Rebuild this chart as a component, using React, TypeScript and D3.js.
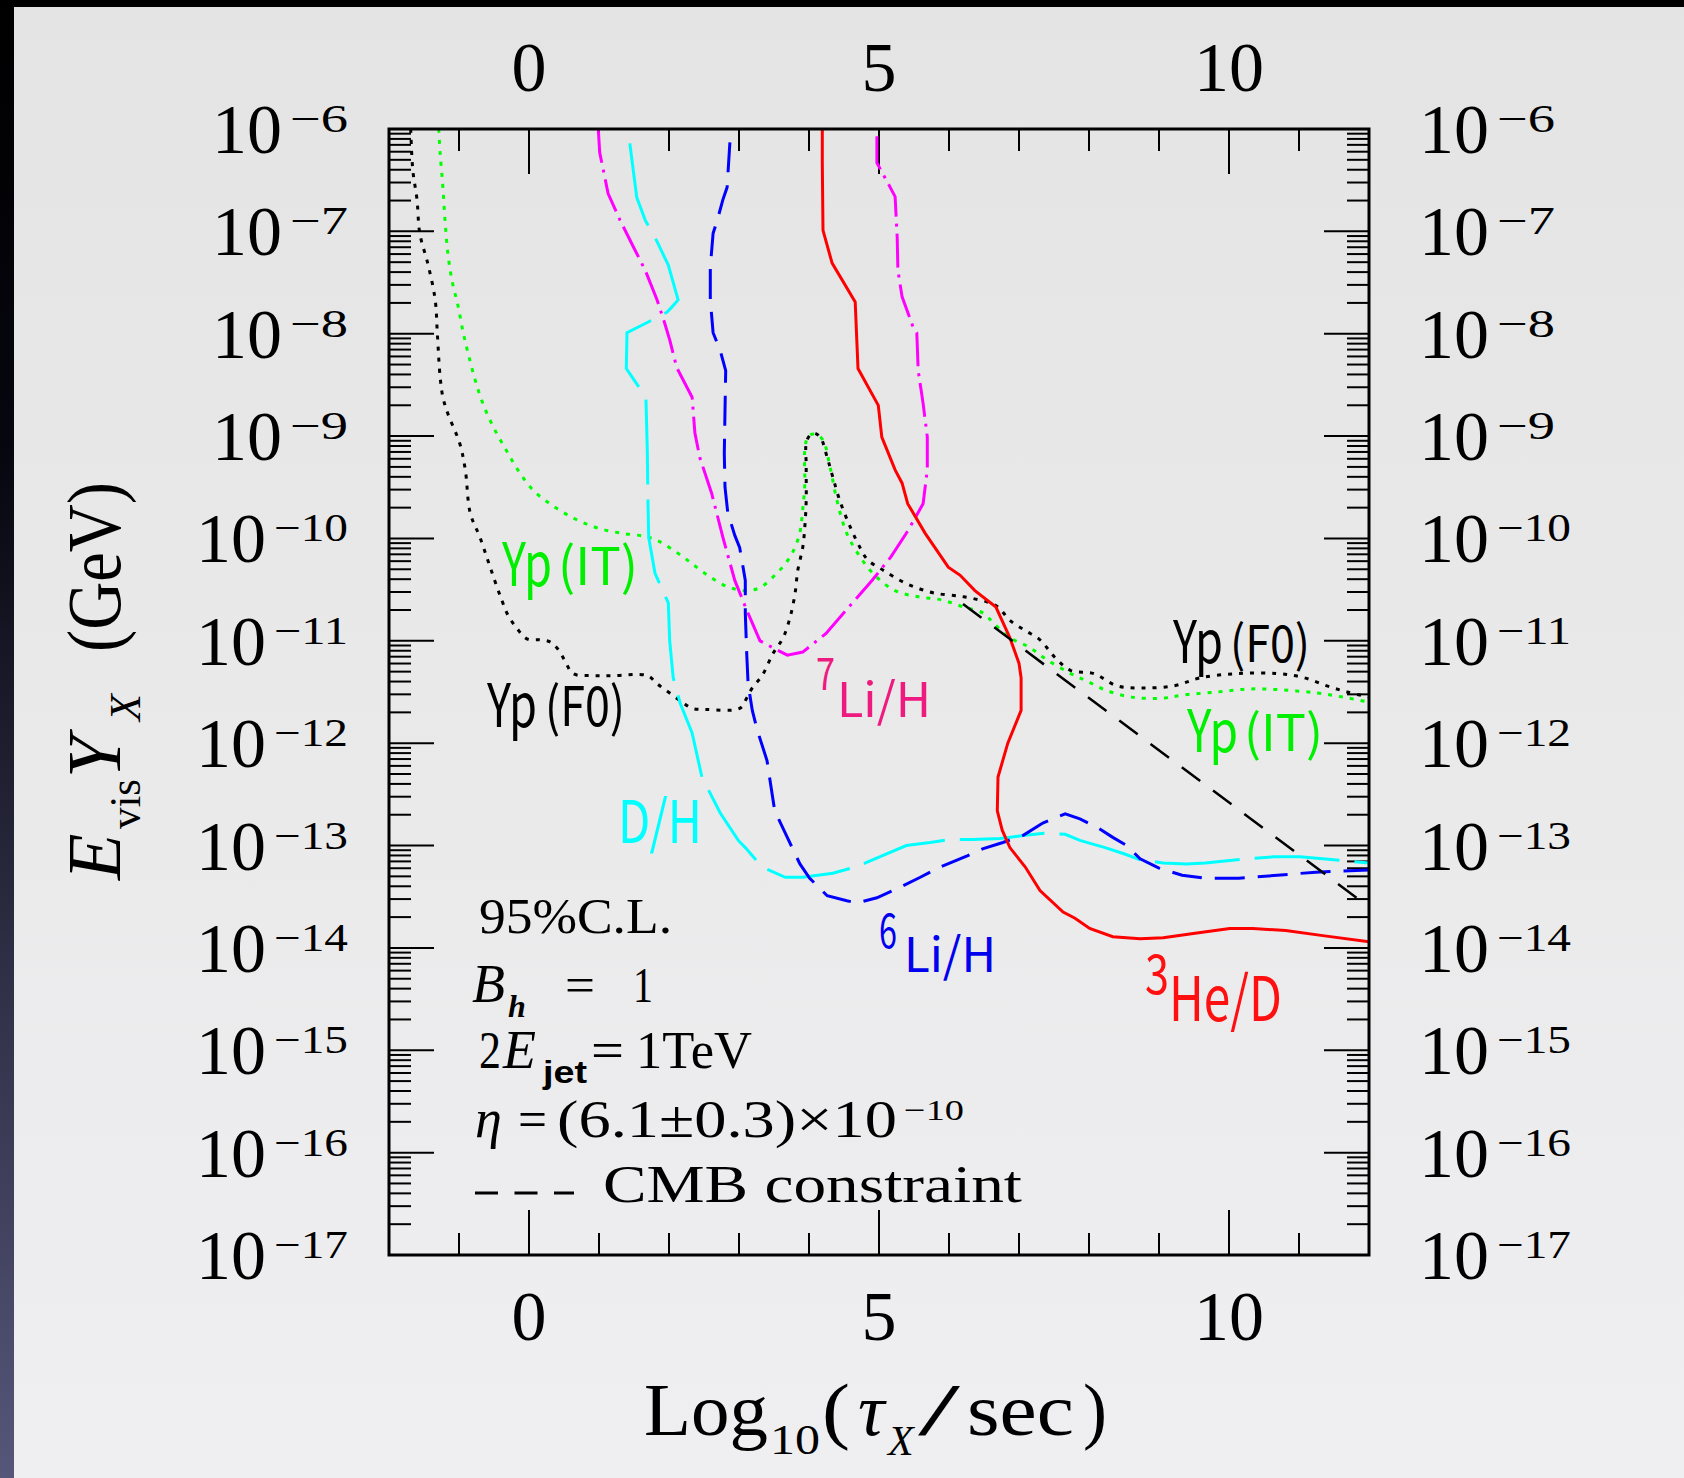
import * as d3 from 'd3'

// x: log10(tau_X / sec), y: log10(E_vis Y_X / GeV)
const ypFO: [number, number][] = [
  [-1.69, -6.0], [-1.66, -6.4], [-1.6, -6.69], [-1.56, -7.02], [-1.44, -7.33], [-1.34, -7.67], [-1.31, -7.99],
  [-1.27, -8.42], [-1.23, -8.62], [-1.16, -8.78], [-0.99, -9.07], [-0.91, -9.33], [-0.84, -9.75], [-0.7, -9.99],
  [-0.59, -10.21], [-0.49, -10.41], [-0.39, -10.6], [-0.3, -10.75], [-0.17, -10.88], [-0.03, -10.98], [0.16, -10.99],
  [0.3, -11.01], [0.4, -11.07], [0.51, -11.19], [0.63, -11.32], [0.91, -11.34], [1.2, -11.34], [1.69, -11.34],
  [1.83, -11.42], [2.01, -11.51], [2.19, -11.6], [2.33, -11.66], [2.54, -11.67], [3.01, -11.66], [3.11, -11.56],
  [3.19, -11.46], [3.33, -11.34], [3.49, -11.12], [3.63, -10.97], [3.73, -10.77], [3.8, -10.54], [3.84, -10.31],
  [3.91, -10.09], [3.94, -9.89], [3.96, -9.63], [3.96, -9.3], [3.97, -9.04], [4.06, -8.97], [4.16, -9.01],
  [4.26, -9.21], [4.34, -9.4], [4.44, -9.63], [4.59, -9.89], [4.73, -10.09], [4.84, -10.21], [5.06, -10.31],
  [5.39, -10.44], [5.77, -10.53], [6.21, -10.57], [6.54, -10.62], [6.7, -10.67], [6.87, -10.8], [7.09, -10.9],
  [7.3, -10.99], [7.51, -11.16], [7.74, -11.29], [8.07, -11.32], [8.4, -11.44], [8.77, -11.46], [9.21, -11.44],
  [9.6, -11.36], [10.14, -11.32], [10.69, -11.32], [11.07, -11.36], [11.4, -11.44], [11.69, -11.5], [12.0, -11.55],
]

const ypIT: [number, number][] = [
  [-1.29, -6.0], [-1.27, -6.23], [-1.23, -6.57], [-1.2, -6.89], [-1.16, -7.21], [-1.1, -7.48], [-1.01, -7.74],
  [-0.94, -7.99], [-0.87, -8.19], [-0.77, -8.45], [-0.66, -8.68], [-0.51, -8.91], [-0.34, -9.12], [-0.16, -9.33],
  [0.06, -9.53], [0.34, -9.68], [0.66, -9.81], [0.99, -9.9], [1.33, -9.95], [1.66, -9.98], [1.83, -10.02],
  [2.01, -10.09], [2.26, -10.21], [2.51, -10.34], [2.83, -10.47], [3.09, -10.51], [3.3, -10.48], [3.54, -10.34],
  [3.73, -10.18], [3.86, -9.97], [3.91, -9.72], [3.94, -9.46], [3.94, -9.14], [3.99, -9.0], [4.09, -8.98],
  [4.2, -9.04], [4.3, -9.3], [4.4, -9.63], [4.54, -9.95], [4.73, -10.18], [4.94, -10.36], [5.23, -10.51],
  [5.56, -10.57], [5.89, -10.6], [6.21, -10.67], [6.49, -10.73], [6.64, -10.83], [6.87, -10.97], [7.14, -11.06],
  [7.41, -11.19], [7.74, -11.32], [7.96, -11.39], [8.23, -11.48], [8.61, -11.55], [9.06, -11.56], [9.34, -11.53],
  [9.83, -11.5], [10.3, -11.47], [10.77, -11.48], [11.26, -11.51], [11.63, -11.55], [12.0, -11.6],
]

const dH: [number, number][] = [
  [1.44, -6.14], [1.54, -6.67], [1.66, -6.89], [1.83, -7.1], [1.99, -7.33], [2.13, -7.67], [2.04, -7.74],
  [1.97, -7.79], [1.69, -7.89], [1.4, -7.99], [1.39, -8.34], [1.67, -8.62], [1.69, -9.14], [1.7, -9.66],
  [1.71, -9.99], [1.8, -10.34], [1.99, -10.63], [2.01, -11.0], [2.06, -11.36], [2.16, -11.61], [2.33, -11.9],
  [2.47, -12.33], [2.73, -12.68], [2.99, -12.95], [3.09, -13.02], [3.33, -13.21], [3.66, -13.31], [3.91, -13.31],
  [4.34, -13.27], [4.66, -13.21], [4.84, -13.16], [5.39, -13.0], [5.73, -12.97], [6.01, -12.94], [6.34, -12.94],
  [6.73, -12.93], [7.09, -12.9], [7.36, -12.88], [7.66, -12.89], [7.87, -12.95], [8.23, -13.02], [8.5, -13.08],
  [8.73, -13.14], [9.06, -13.17], [9.39, -13.18], [9.66, -13.17], [10.26, -13.13], [10.64, -13.11], [11.01, -13.11],
  [11.34, -13.13], [12.0, -13.17],
]

const li7H: [number, number][] = [
  [0.99, -6.0], [1.01, -6.23], [1.04, -6.33], [1.13, -6.63], [1.3, -6.89], [1.49, -7.15], [1.66, -7.38],
  [1.83, -7.67], [1.94, -7.9], [2.01, -8.06], [2.11, -8.33], [2.33, -8.62], [2.37, -8.97], [2.44, -9.21],
  [2.61, -9.56], [2.77, -9.99], [2.94, -10.41], [3.11, -10.7], [3.3, -11.0], [3.49, -11.07], [3.69, -11.14],
  [3.91, -11.11], [4.24, -10.93], [4.57, -10.67], [4.9, -10.41], [5.17, -10.18], [5.39, -9.95], [5.54, -9.77],
  [5.63, -9.66], [5.69, -9.33], [5.69, -9.01], [5.63, -8.68], [5.56, -8.36], [5.54, -7.99], [5.49, -7.94],
  [5.33, -7.64], [5.27, -7.38], [5.26, -7.06], [5.23, -6.66], [5.16, -6.57], [4.97, -6.33], [4.97, -6.0],
]

const li6H: [number, number][] = [
  [2.87, -6.13], [2.83, -6.57], [2.77, -6.69], [2.69, -6.89], [2.63, -7.02], [2.59, -7.35], [2.59, -7.67],
  [2.63, -7.99], [2.73, -8.16], [2.81, -8.36], [2.8, -8.75], [2.79, -9.17], [2.8, -9.5], [2.84, -9.75],
  [2.94, -9.97], [3.01, -10.09], [3.09, -10.41], [3.09, -10.73], [3.11, -11.12], [3.13, -11.42], [3.19, -11.68],
  [3.26, -11.87], [3.4, -12.17], [3.51, -12.66], [3.69, -12.92], [3.87, -13.18], [4.01, -13.32], [4.26, -13.49],
  [4.54, -13.54], [4.69, -13.56], [4.97, -13.51], [5.26, -13.42], [5.59, -13.31], [5.87, -13.21], [6.26, -13.1],
  [6.49, -13.03], [6.77, -12.97], [7.06, -12.9], [7.34, -12.78], [7.66, -12.69], [7.87, -12.74], [8.11, -12.82],
  [8.34, -12.92], [8.54, -13.0], [8.73, -13.13], [9.0, -13.22], [9.33, -13.29], [9.66, -13.32], [10.14, -13.32],
  [10.69, -13.29], [11.24, -13.26], [12.0, -13.24],
]

const he3D: [number, number][] = [
  [4.19, -6.0], [4.19, -6.33], [4.2, -6.99], [4.33, -7.31], [4.66, -7.69], [4.7, -8.34], [4.99, -8.7],
  [5.04, -9.01], [5.23, -9.33], [5.33, -9.46], [5.41, -9.66], [5.66, -9.95], [5.99, -10.28], [6.16, -10.36],
  [6.37, -10.51], [6.67, -10.67], [6.87, -10.97], [7.0, -11.22], [7.03, -11.36], [7.03, -11.68], [6.84, -12.0],
  [6.7, -12.33], [6.69, -12.66], [6.76, -12.85], [6.87, -13.02], [7.09, -13.21], [7.3, -13.44], [7.63, -13.65],
  [7.8, -13.71], [8.01, -13.81], [8.34, -13.89], [8.73, -13.91], [9.06, -13.9], [9.49, -13.86], [10.01, -13.81],
  [10.34, -13.81], [10.81, -13.83], [11.34, -13.88], [12.0, -13.94],
]

const cmb: [number, number][] = [[6.2, -10.64], [12.0, -13.6]]

const xMinor = d3.range(-1, 12)
const xLabels = [0, 5, 10]
const yDecades = d3.range(-17, -5)
const yLabels = d3.range(-6, -18, -1)

const x = d3.scaleLinear().domain([-2, 12]).range([389, 1369])
const y = d3.scaleLog().domain([1e-17, 1e-6]).range([1255, 129])

const line = d3.line<[number, number]>().x((d) => x(d[0])).y((d) => y(Math.pow(10, d[1])))
const smooth = d3.line<[number, number]>().x((d) => x(d[0])).y((d) => y(Math.pow(10, d[1]))).curve(d3.curveCatmullRom.alpha(0.5))

const SERIF = "'Liberation Serif', 'Times New Roman', serif"
const GOTHIC = "'Noto Sans CJK JP', 'Noto Sans', sans-serif"

function T({ x, y, size, w, fill = '#000', italic, bold, family = SERIF, children }: any) {
  return (
    <text x={x} y={y} fontSize={size} fill={fill} fontFamily={family}
      fontStyle={italic ? 'italic' : undefined}
      fontWeight={bold ? 'bold' : undefined}
      textLength={w} lengthAdjust={w ? 'spacingAndGlyphs' : undefined}>
      {children}
    </text>
  )
}

function YLabel({ e, side }: { e: number; side: 'left' | 'right' }) {
  const digits = String(-e)
  const supW = digits.length === 1 ? 58 : 74
  const ty = y(Math.pow(10, e))
  const tenX = side === 'left' ? 348 - supW - 8 - 70 : 1419
  const supX = tenX + 78
  return (
    <g>
      <T x={tenX} y={ty + 24} size={70} w={70}>10</T>
      <T x={supX} y={ty + 3} size={40} w={supW}>{'\u2212' + digits}</T>
    </g>
  )
}

export default function App() {
  const left = 389, right = 1369, top = 129, bottom = 1255
  return (
    <div style={{ position: 'absolute', left: 0, top: 0 }}>
      <svg width={1684} height={1478} style={{ display: 'block' }}>
        <defs>
          <linearGradient id="bg" x1="0" y1="0" x2="0" y2="1">
            <stop offset="0" stopColor="#e4e4e4" />
            <stop offset="1" stopColor="#efeff1" />
          </linearGradient>
          <linearGradient id="edge" x1="0" y1="0" x2="0" y2="1">
            <stop offset="0" stopColor="#000" />
            <stop offset="0.3" stopColor="#06060f" />
            <stop offset="1" stopColor="#56567a" />
          </linearGradient>
          <clipPath id="plot">
            <rect x={left} y={top} width={right - left} height={bottom - top} />
          </clipPath>
        </defs>
        <rect width={1684} height={1478} fill="url(#bg)" />
        <rect width={14} height={1478} fill="url(#edge)" />
        <rect width={1684} height={7} fill="#000" />

        {/* ticks */}
        <g stroke="#000" strokeWidth={2}>
          {xMinor.map((v) => {
            const len = v % 5 === 0 ? 45 : 22
            return (
              <g key={v}>
                <line x1={x(v)} x2={x(v)} y1={top} y2={top + len} />
                <line x1={x(v)} x2={x(v)} y1={bottom} y2={bottom - len} />
              </g>
            )
          })}
          {yDecades.map((d) => (
            <g key={d}>
              <line x1={left} x2={left + 45} y1={y(Math.pow(10, d))} y2={y(Math.pow(10, d))} />
              <line x1={right} x2={right - 45} y1={y(Math.pow(10, d))} y2={y(Math.pow(10, d))} />
              {d < -6 && d3.range(2, 10).map((k) => {
                const py = y(k * Math.pow(10, d))
                return (
                  <g key={k}>
                    <line x1={left} x2={left + 22} y1={py} y2={py} />
                    <line x1={right} x2={right - 22} y1={py} y2={py} />
                  </g>
                )
              })}
            </g>
          ))}
        </g>

        {/* curves */}
        <g clipPath="url(#plot)" fill="none" strokeWidth={3}>
          <path d={smooth(ypFO) ?? ''} stroke="#000" strokeDasharray="4 7" />
          <path d={smooth(ypIT) ?? ''} stroke="#00ff00" strokeDasharray="4 7" />
          <path d={line(dH) ?? ''} stroke="#00ffff" strokeDasharray="85 15" />
          <path d={line(li7H) ?? ''} stroke="#ff00ff" strokeDasharray="34 7 3 7" />
          <path d={line(li6H) ?? ''} stroke="#0000ff" strokeDasharray="30 13" />
          <path d={line(he3D) ?? ''} stroke="#ff0000" />
          <path d={line(cmb) ?? ''} stroke="#000" strokeWidth={2.5} strokeDasharray="23 16" />
        </g>

        <rect x={left} y={top} width={right - left} height={bottom - top} fill="none" stroke="#000" strokeWidth={3} />

        {/* tick labels */}
        {xLabels.map((v) => (
          <g key={v} fontFamily={SERIF} fontSize={70} textAnchor="middle">
            <text x={x(v)} y={91}>{v}</text>
            <text x={x(v)} y={1340}>{v}</text>
          </g>
        ))}
        {yLabels.map((e) => (
          <g key={e}>
            <YLabel e={e} side="left" />
            <YLabel e={e} side="right" />
          </g>
        ))}

        {/* axis titles */}
        <T x={644} y={1435} size={74} w={124}>Log</T>
        <T x={770} y={1454} size={42} w={50}>10</T>
        <T x={822} y={1435} size={74} w={28}>(</T>
        <T x={858} y={1435} size={74} italic>τ</T>
        <T x={888} y={1455} size={42} italic>X</T>
        <T x={918} y={1435} size={74} w={42}>/</T>
        <T x={967} y={1435} size={74} w={107}>sec</T>
        <T x={1083} y={1435} size={74} w={24}>)</T>

        <g transform="translate(120,0) rotate(-90)">
          <T x={-880} y={0} size={76} italic>E</T>
          <T x={-829} y={20} size={44} w={50}>vis</T>
          <T x={-778} y={0} size={76} italic>Y</T>
          <T x={-721} y={20} size={44} italic>X</T>
          <T x={-652} y={0} size={76} w={170}>(GeV)</T>
        </g>

        {/* annotations */}
        <T x={479} y={933} size={50} w={193}>95%C.L.</T>
        <T x={472} y={1002} size={54} italic>B</T>
        <T x={508} y={1017} size={32} italic bold>h</T>
        <T x={565} y={1002} size={50} w={30}>=</T>
        <T x={633} y={1002} size={50} w={20}>1</T>
        <T x={479} y={1068} size={52} w={22}>2</T>
        <T x={503} y={1068} size={54} italic>E</T>
        <T x={543} y={1083} size={32} w={44} bold family="'Liberation Sans', Arial, sans-serif">jet</T>
        <T x={591} y={1068} size={52} w={33}>=</T>
        <T x={636} y={1068} size={52} w={116}>1TeV</T>
        <T x={475} y={1137} size={54} italic>η</T>
        <T x={518} y={1137} size={52} w={29}>=</T>
        <T x={557} y={1137} size={52} w={340}>(6.1±0.3)×10</T>
        <T x={904} y={1120} size={30} w={60}>{'\u221210'}</T>
        <line x1={475} x2={574} y1={1193} y2={1193} stroke="#000" strokeWidth={3} strokeDasharray="23 16.5" />
        <T x={603} y={1202} size={52} w={419}>CMB constraint</T>

        {/* curve labels */}
        <g fontFamily={GOTHIC}>
          <T x={502} y={586} size={60} w={50} fill="#00ee00" family={GOTHIC}>Yp</T>
          <T x={558} y={585} size={52} w={80} fill="#00ee00" family={GOTHIC}>(IT)</T>
          <T x={487} y={727} size={60} w={50} family={GOTHIC}>Yp</T>
          <T x={545} y={726} size={54} w={80} family={GOTHIC}>(F0)</T>
          <T x={618} y={843} size={59} w={84} fill="#00ffff" family={GOTHIC}>D/H</T>
          <T x={816} y={690} size={45} w={19} fill="#ee1a80" family={GOTHIC}>7</T>
          <T x={837} y={717} size={48} w={94} fill="#ee1a80" family={GOTHIC}>Li/H</T>
          <T x={879} y={948} size={47} w={18} fill="#0000ee" family={GOTHIC}>6</T>
          <T x={904} y={972} size={48} w={92} fill="#0000ee" family={GOTHIC}>Li/H</T>
          <T x={1145} y={994} size={54} w={24} fill="#ff1010" family={GOTHIC}>3</T>
          <T x={1169} y={1021} size={62} w={113} fill="#ff1010" family={GOTHIC}>He/D</T>
          <T x={1173} y={663} size={59} w={50} family={GOTHIC}>Yp</T>
          <T x={1230} y={662} size={50} w={80} family={GOTHIC}>(F0)</T>
          <T x={1187} y={752} size={58} w={51} fill="#00ee00" family={GOTHIC}>Yp</T>
          <T x={1244} y={751} size={50} w={79} fill="#00ee00" family={GOTHIC}>(IT)</T>
        </g>
      </svg>
    </div>
  )
}
